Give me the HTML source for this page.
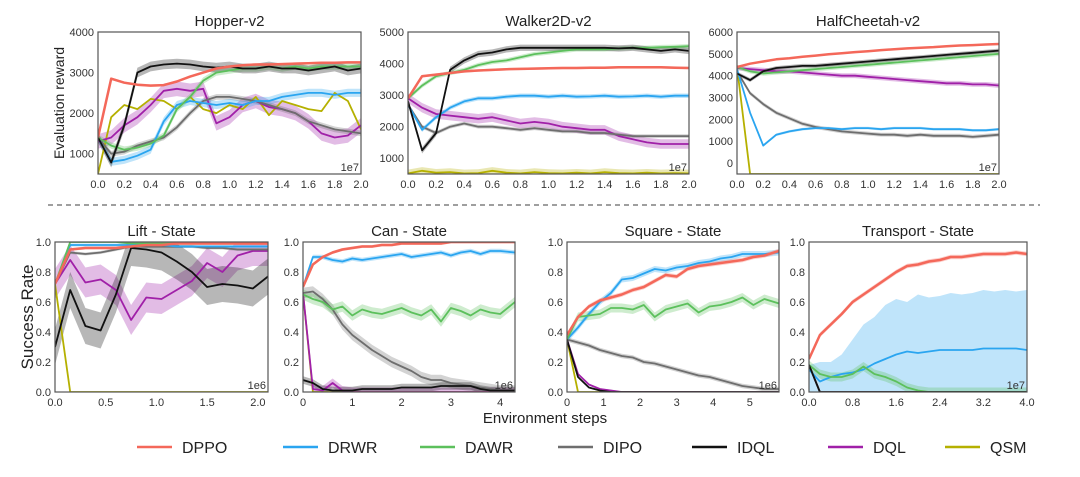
<!DOCTYPE html>
<html><head><meta charset="utf-8"><style>
body{margin:0;background:#fff;width:1080px;height:477px;overflow:hidden;font-family:"Liberation Sans",sans-serif}
svg{display:block}
</style></head><body>
<svg id="fig" width="1080" height="477" viewBox="0 0 1080 477" xmlns="http://www.w3.org/2000/svg"></svg>
<script>
// ---- data ----
const methods=["DPPO","DRWR","DAWR","DIPO","IDQL","DQL","QSM"];
const colors=["#f4685a","#2aa5f0","#5cc05c","#6e6e6e","#111111","#a020a8","#b5b000"];
const panelTitles=["Hopper-v2","Walker2D-v2","HalfCheetah-v2","Lift - State","Can - State","Square - State","Transport - State"];
const topX=[0,0.1,0.2,0.3,0.4,0.5,0.6,0.7,0.8,0.9,1.0,1.1,1.2,1.3,1.4,1.5,1.6,1.7,1.8,1.9,2.0];
const hopperTicks=[1000,2000,3000,4000];
const walkerTicks=[1000,2000,3000,4000,5000];
const cheetahTicks=[0,1000,2000,3000,4000,5000,6000];
const topXTicks=[0,0.2,0.4,0.6,0.8,1.0,1.2,1.4,1.6,1.8,2.0];
const rateTicks=[0,0.2,0.4,0.6,0.8,1.0];
const hopper=[
[1400,2850,2750,2700,2680,2690,2780,2900,3000,3100,3150,3180,3200,3200,3210,3220,3230,3240,3240,3250,3250],
[1400,800,850,950,1100,1800,2200,2300,2250,2200,2250,2200,2300,2300,2400,2450,2500,2500,2450,2500,2500],
[1400,1200,1100,1150,1250,1450,2100,2400,2800,3000,3050,3100,3100,3150,3100,3150,3100,3150,3150,3150,3150],
[1400,1000,1050,1200,1300,1400,1650,2000,2300,2400,2400,2350,2300,2200,2100,2000,1800,1700,1600,1550,1500],
[1400,780,1700,3000,3150,3200,3220,3200,3150,3120,3150,3100,3100,3150,3100,3100,3050,3100,3150,3050,3100],
[1300,1400,1700,1900,2200,2550,2600,2550,2600,1750,1900,2200,2300,2150,2100,2000,1800,1500,1400,1450,1700],
[500,1900,2200,2100,2350,2300,2100,2400,2100,2000,2200,2100,2400,1950,2300,2200,2100,2050,2500,2300,1600]];
const hopperBand=[30,100,80,70,120,180,0];
const walker=[
[2900,3600,3650,3700,3750,3780,3800,3820,3830,3840,3850,3860,3860,3870,3870,3880,3880,3880,3880,3870,3860],
[2700,1900,2300,2600,2800,2900,2900,2950,2980,2980,2950,2980,2950,2960,2980,2950,2960,2980,2950,2980,2980],
[2900,3300,3600,3700,3800,3950,4050,4100,4200,4300,4350,4400,4450,4450,4450,4480,4500,4500,4520,4530,4550],
[2700,2000,1800,2000,2100,2000,2000,1950,1900,1950,1900,1850,1850,1800,1800,1750,1700,1700,1700,1700,1700],
[2800,1250,1800,3800,4100,4300,4350,4450,4500,4500,4500,4500,4500,4500,4500,4480,4500,4450,4400,4450,4400],
[2900,2600,2400,2350,2300,2250,2300,2200,2100,2150,2100,2000,1950,1900,1900,1700,1600,1500,1450,1450,1450],
[520,600,540,560,520,530,600,540,520,560,530,520,540,520,560,530,520,540,520,530,520]];
const walkerBand=[40,70,70,60,100,150,120];
const cheetah=[
[4400,4550,4650,4750,4800,4870,4920,4980,5030,5080,5120,5170,5210,5250,5280,5310,5350,5380,5400,5430,5450],
[4300,2300,800,1300,1450,1550,1600,1600,1550,1600,1600,1550,1600,1600,1600,1550,1550,1550,1500,1500,1550],
[4400,4200,4100,4150,4200,4250,4300,4350,4400,4450,4500,4550,4600,4650,4700,4750,4800,4850,4900,4950,5000],
[4200,3200,2700,2300,2050,1800,1650,1550,1450,1400,1350,1300,1300,1250,1300,1250,1250,1250,1200,1250,1300],
[4100,3800,4200,4350,4400,4450,4450,4500,4550,4600,4650,4700,4750,4800,4850,4900,4950,5000,5050,5100,5150],
[4350,4300,4250,4200,4200,4150,4100,4050,4000,4000,3950,3900,3850,3800,3750,3700,3650,3650,3600,3600,3550],
[4400,-500,-500,-500,-500,-500,-500,-500,-500,-500,-500,-500,-500,-500,-500,-500,-500,-500,-500,-500,-500]];
const cheetahBand=[30,60,100,90,90,110,0];
const liftX=[0,0.15,0.3,0.45,0.6,0.75,0.9,1.05,1.2,1.35,1.5,1.65,1.8,1.95,2.1];
const liftXTicks=[0,0.5,1.0,1.5,2.0];
const lift=[
[0.72,0.95,0.96,0.96,0.96,0.97,0.98,0.98,0.99,0.99,0.99,0.99,0.99,0.99,0.99],
[0.72,0.98,0.98,0.98,0.98,0.98,0.98,0.98,0.97,0.97,0.97,0.97,0.97,0.97,0.97],
[0.72,1,1,1,1,0.99,0.99,0.99,0.99,0.99,0.99,0.99,0.99,0.99,0.99],
[0.72,0.93,0.92,0.93,0.95,0.97,0.97,0.97,0.97,0.97,0.96,0.96,0.95,0.95,0.95],
[0.3,0.68,0.44,0.41,0.65,0.96,0.95,0.93,0.87,0.8,0.7,0.72,0.71,0.69,0.77],
[0.72,0.88,0.73,0.75,0.68,0.48,0.63,0.62,0.68,0.74,0.86,0.8,0.91,0.94,0.94],
[0.72,0,0,0,0,0,0,0,0,0,0,0,0,0,0]];
const liftBand=[0.01,0.01,0.005,0.01,0.12,0.1,0];
const canX=[0,0.2,0.4,0.6,0.8,1.0,1.2,1.4,1.6,1.8,2.0,2.2,2.4,2.6,2.8,3.0,3.2,3.4,3.6,3.8,4.0,4.3];
const canXTicks=[0,1,2,3,4];
const can=[
[0.7,0.85,0.9,0.93,0.95,0.96,0.97,0.97,0.98,0.98,0.99,0.99,0.99,0.99,0.99,1,1,1,1,1,1,1],
[0.7,0.9,0.9,0.88,0.87,0.89,0.88,0.89,0.9,0.91,0.92,0.9,0.91,0.92,0.93,0.91,0.93,0.94,0.92,0.94,0.94,0.93],
[0.65,0.62,0.6,0.55,0.57,0.51,0.55,0.53,0.52,0.54,0.56,0.53,0.51,0.55,0.47,0.56,0.54,0.51,0.55,0.53,0.52,0.6],
[0.66,0.67,0.62,0.55,0.45,0.38,0.33,0.28,0.24,0.2,0.17,0.14,0.1,0.08,0.08,0.06,0.05,0.04,0.03,0.02,0.01,0.01],
[0.08,0.06,0.02,0.01,0.01,0.01,0.02,0.02,0.02,0.02,0.03,0.03,0.03,0.03,0.04,0.04,0.04,0.04,0.02,0.01,0.01,0.01],
[0.66,0.02,0.01,0.06,0.01,0,0,0,0,0,0,0,0,0,0,0,0,0,0,0,0,0],
[0.66,0,0,0,0,0,0,0,0,0,0,0,0,0,0,0,0,0,0,0,0,0]];
const canBand=[0.01,0.015,0.035,0.035,0.025,0.03,0];
const squareX=[0,0.3,0.6,0.9,1.2,1.5,1.8,2.1,2.4,2.7,3.0,3.3,3.6,3.9,4.2,4.5,4.8,5.1,5.4,5.8];
const squareXTicks=[0,1,2,3,4,5];
const square=[
[0.38,0.5,0.57,0.61,0.63,0.65,0.68,0.7,0.74,0.78,0.77,0.82,0.84,0.85,0.86,0.87,0.88,0.9,0.91,0.94],
[0.35,0.43,0.52,0.6,0.66,0.75,0.76,0.79,0.82,0.81,0.83,0.84,0.86,0.87,0.89,0.9,0.92,0.92,0.92,0.93],
[0.35,0.5,0.51,0.52,0.56,0.56,0.55,0.58,0.5,0.55,0.57,0.59,0.53,0.57,0.58,0.6,0.63,0.58,0.62,0.59],
[0.35,0.33,0.31,0.28,0.26,0.24,0.23,0.2,0.19,0.17,0.15,0.13,0.11,0.1,0.08,0.06,0.04,0.03,0.02,0.02],
[0.35,0.1,0.03,0.01,0,0,0,0,0,0,0,0,0,0,0,0,0,0,0,0],
[0.35,0.12,0.05,0.02,0.01,0,0,0,0,0,0,0,0,0,0,0,0,0,0,0],
[0.35,0,0,0,0,0,0,0,0,0,0,0,0,0,0,0,0,0,0,0]];
const squareBand=[0.015,0.02,0.03,0.015,0.005,0.005,0];
const transportX=[0,0.2,0.4,0.6,0.8,1.0,1.2,1.4,1.6,1.8,2.0,2.2,2.4,2.6,2.8,3.0,3.2,3.4,3.6,3.8,4.0];
const transportXTicks=[0,0.8,1.6,2.4,3.2,4.0];
const transport=[
[0.22,0.38,0.45,0.52,0.6,0.65,0.7,0.75,0.8,0.84,0.85,0.87,0.88,0.9,0.9,0.91,0.92,0.92,0.92,0.93,0.92],
[0.15,0.07,0.1,0.12,0.13,0.15,0.19,0.22,0.25,0.27,0.26,0.27,0.28,0.28,0.28,0.28,0.29,0.29,0.29,0.29,0.28],
[0.18,0.12,0.1,0.1,0.12,0.17,0.12,0.1,0.07,0.03,0.01,0,0,0,0,0,0,0,0,0,0],
[0.18,0,0,0,0,0,0,0,0,0,0,0,0,0,0,0,0,0,0,0,0],
[0.18,0,0,0,0,0,0,0,0,0,0,0,0,0,0,0,0,0,0,0,0],
[0.18,0,0,0,0,0,0,0,0,0,0,0,0,0,0,0,0,0,0,0,0],
[0.18,0,0,0,0,0,0,0,0,0,0,0,0,0,0,0,0,0,0,0,0]];
const transportBand=[0.015,0,0.03,0,0,0,0];
const transportDrwrUpper=[0.18,0.2,0.2,0.25,0.35,0.45,0.5,0.58,0.62,0.6,0.65,0.63,0.64,0.66,0.65,0.66,0.68,0.67,0.68,0.67,0.68];
</script>
<script>
const svg=document.getElementById('fig');
const NS="http://www.w3.org/2000/svg";
function mk(tag,attrs,parent){const e=document.createElementNS(NS,tag);for(const k in attrs)e.setAttribute(k,attrs[k]);(parent||svg).appendChild(e);return e;}
function txt(s,attrs,parent){const e=mk('text',attrs,parent);e.textContent=s;return e;}

const panels=[
{x0:98,x1:361,y0:32,y1:174,xmin:0,xmax:2,ymin:500,ymax:4000,xs:topX,ys:hopper,band:hopperBand,yt:hopperTicks,xt:topXTicks,xfmt:v=>v.toFixed(1),yfmt:v=>String(v),exp:"1e7"},
{x0:408,x1:689,y0:32,y1:174,xmin:0,xmax:2,ymin:500,ymax:5000,xs:topX,ys:walker,band:walkerBand,yt:walkerTicks,xt:topXTicks,xfmt:v=>v.toFixed(1),yfmt:v=>String(v),exp:"1e7"},
{x0:737,x1:999,y0:32,y1:174,xmin:0,xmax:2,ymin:-500,ymax:6000,xs:topX,ys:cheetah,band:cheetahBand,yt:cheetahTicks,xt:topXTicks,xfmt:v=>v.toFixed(1),yfmt:v=>String(v),exp:"1e7"},
{x0:55,x1:268,y0:242,y1:392,xmin:0,xmax:2.1,ymin:0,ymax:1,xs:liftX,ys:lift,band:liftBand,yt:rateTicks,xt:liftXTicks,xfmt:v=>v.toFixed(1),yfmt:v=>v.toFixed(1),exp:"1e6"},
{x0:303,x1:515,y0:242,y1:392,xmin:0,xmax:4.3,ymin:0,ymax:1,xs:canX,ys:can,band:canBand,yt:rateTicks,xt:canXTicks,xfmt:v=>String(v),yfmt:v=>v.toFixed(1),exp:"1e6"},
{x0:567,x1:779,y0:242,y1:392,xmin:0,xmax:5.8,ymin:0,ymax:1,xs:squareX,ys:square,band:squareBand,yt:rateTicks,xt:squareXTicks,xfmt:v=>String(v),yfmt:v=>v.toFixed(1),exp:"1e6"},
{x0:809,x1:1027,y0:242,y1:392,xmin:0,xmax:4.0,ymin:0,ymax:1,xs:transportX,ys:transport,band:transportBand,yt:rateTicks,xt:transportXTicks,xfmt:v=>v.toFixed(1),yfmt:v=>v.toFixed(1),exp:"1e7"}
];
const order=[6,5,3,1,2,4,0];
panels.forEach((p,pi)=>{
  const g=mk('g',{});
  
  
  const sx=v=>p.x0+(v-p.xmin)/(p.xmax-p.xmin)*(p.x1-p.x0);
  const sy=v=>p.y1-(v-p.ymin)/(p.ymax-p.ymin)*(p.y1-p.y0);
  const cid='clip'+pi;
  const cp=mk('clipPath',{id:cid},g);
  mk('rect',{x:p.x0,y:p.y0,width:p.x1-p.x0,height:p.y1-p.y0},cp);
  const dg=mk('g',{'clip-path':'url(#'+cid+')'},g);
  order.forEach(si=>{
    const ys=p.ys[si];const bw=p.band[si];
    let up,lo;
    if(pi===6&&si===1){up=transportDrwrUpper;lo=ys.map(()=>0);}
    else if(bw>0){up=ys.map(v=>v+bw);lo=ys.map(v=>v-bw);}
    if(up){
      let d='';p.xs.forEach((x,i)=>{d+=(i?'L':'M')+sx(x).toFixed(1)+','+sy(up[i]).toFixed(1);});
      for(let i=p.xs.length-1;i>=0;i--)d+='L'+sx(p.xs[i]).toFixed(1)+','+sy(lo[i]).toFixed(1);
      const b=mk('path',{d:d+'Z',fill:colors[si],opacity:0.3,stroke:'none'},dg);
      
      
    }
  });
  order.forEach(si=>{
    const ys=p.ys[si];
    let d='';p.xs.forEach((x,i)=>{d+=(i?'L':'M')+sx(x).toFixed(1)+','+sy(ys[i]).toFixed(1);});
    const l=mk('path',{d:d,fill:'none',stroke:colors[si],'stroke-width':si===0?2.5:1.8,'stroke-linejoin':'round'},dg);
    
    
  });
  mk('rect',{x:p.x0,y:p.y0,width:p.x1-p.x0,height:p.y1-p.y0,fill:'none',stroke:'#555','stroke-width':1.2},g);
  p.xt.forEach(v=>{const t=txt(p.xfmt(v),{x:sx(v),y:p.y1+14,'text-anchor':'middle','font-size':11,fill:'#333'},g);
    });
  p.yt.forEach(v=>{const t=txt(p.yfmt(v),{x:p.x0-4,y:sy(v)+4,'text-anchor':'end','font-size':11,fill:'#333'},g);
    });
  const tt=txt(panelTitles[pi],{x:(p.x0+p.x1)/2,y:p.y0-6,'text-anchor':'middle','font-size':15,fill:'#222'},g);
  
  const ex=txt(p.exp,{x:p.x1-2,y:p.y1-3,'text-anchor':'end','font-size':11,fill:'#333'},g);
  
});
// labels
const yl1=txt("Evaluation reward",{x:0,y:0,transform:'translate(64,103) rotate(-90)','text-anchor':'middle','font-size':14,fill:'#222'});

const yl2=txt("Success Rate",{x:0,y:0,transform:'translate(33,317) rotate(-90)','text-anchor':'middle','font-size':17,fill:'#222'});

const xl=txt("Environment steps",{x:545,y:423,'text-anchor':'middle','font-size':15,fill:'#222'});

const dl=mk('line',{x1:48,y1:205,x2:1040,y2:205,stroke:'#666','stroke-width':1.3,'stroke-dasharray':'5,4'});

// legend
const legX=[137,283,420,558,692,828,945];
methods.forEach((m,i)=>{
  const g=mk('g',{});
  
  
  mk('line',{x1:legX[i],y1:447,x2:legX[i]+35,y2:447,stroke:colors[i],'stroke-width':2.5},g);
  txt(m,{x:legX[i]+45,y:453,'font-size':16,fill:'#222'},g);
});
</script>
</body></html>
